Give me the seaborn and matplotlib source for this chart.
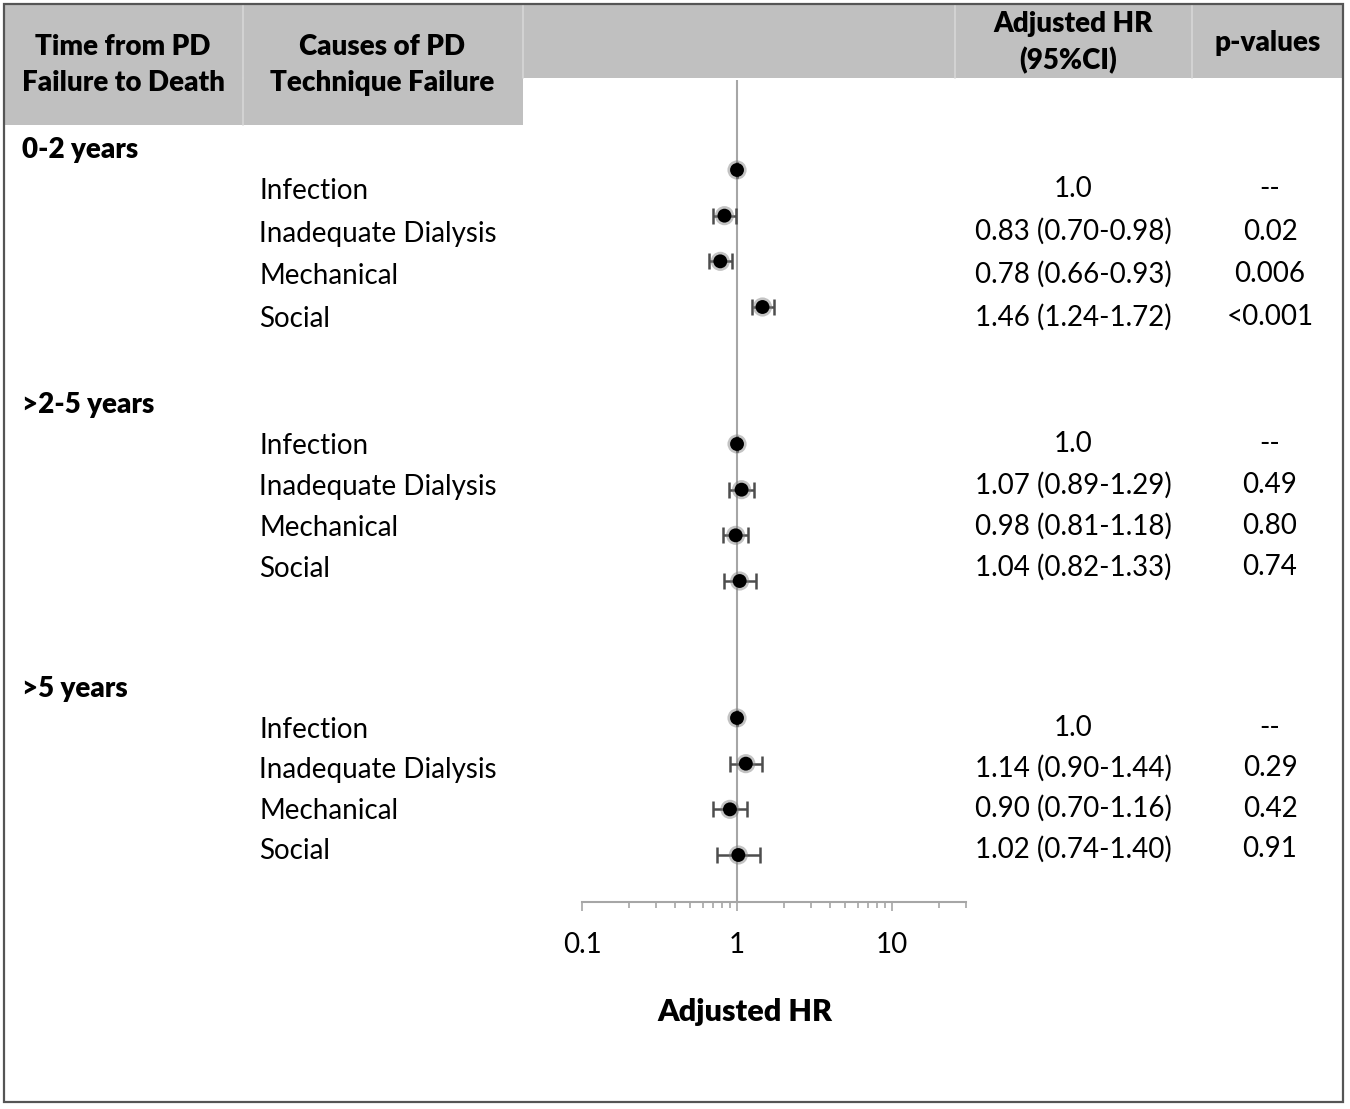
import matplotlib
matplotlib.use("Agg")
import numpy as np
import pandas as pd
import seaborn as sns
import matplotlib.pyplot as plt
from matplotlib.patches import Rectangle

# ---- data ----
groups = ["0-2 years", ">2-5 years", ">5 years"]
causes = ["Infection", "Inadequate Dialysis", "Mechanical", "Social"]

hr_0_2 = [1.0, 0.83, 0.78, 1.46]
lo_0_2 = [1.0, 0.70, 0.66, 1.24]
hi_0_2 = [1.0, 0.98, 0.93, 1.72]
p_0_2 = ["--", "0.02", "0.006", "<0.001"]

hr_2_5 = [1.0, 1.07, 0.98, 1.04]
lo_2_5 = [1.0, 0.89, 0.81, 0.82]
hi_2_5 = [1.0, 1.29, 1.18, 1.33]
p_2_5 = ["--", "0.49", "0.80", "0.74"]

hr_5 = [1.0, 1.14, 0.90, 1.02]
lo_5 = [1.0, 0.90, 0.70, 0.74]
hi_5 = [1.0, 1.44, 1.16, 1.40]
p_5 = ["--", "0.29", "0.42", "0.91"]

tick_values = [0.1, 1, 10]
tick_labels = ["0.1", "1", "10"]

hr_all = [hr_0_2, hr_2_5, hr_5]
lo_all = [lo_0_2, lo_2_5, lo_5]
hi_all = [hi_0_2, hi_2_5, hi_5]
p_all = [p_0_2, p_2_5, p_5]

records = []
for g, grp in enumerate(groups):
    for i, cause in enumerate(causes):
        records.append({
            "group": grp, "cause": cause,
            "hr": hr_all[g][i], "lo": lo_all[g][i], "hi": hi_all[g][i],
            "p": p_all[g][i],
            "row": 6 * g + i,
        })
df = pd.DataFrame(records)

def hr_text(r):
    if r["lo"] == r["hi"]:
        return f"{r['hr']:.1f}"
    return f"{r['hr']:.2f} ({r['lo']:.2f}-{r['hi']:.2f})"

df["hr_label"] = df.apply(hr_text, axis=1)

# ---- layout ----
W, H = 1350, 1109
sns.set_style("white")
plt.rcParams["font.family"] = ["Lato", "DejaVu Sans"]
fs = 20
ink = "#000000"
fig = plt.figure(figsize=(W / 100, H / 100), dpi=100)

bg = fig.add_axes([0, 0, 1, 1])
bg.set_xlim(0, W)
bg.set_ylim(H, 0)
bg.axis("off")

header_grey = "#c0c0c0"
bg.add_patch(Rectangle((5, 5), 1338, 73, color=header_grey, lw=0, zorder=0))
bg.add_patch(Rectangle((5, 78), 518, 47, color=header_grey, lw=0, zorder=0))
for x in [243, 523, 955, 1192]:
    bg.plot([x, x], [5, 78], color="#d6d6d6", lw=1.2, zorder=1)
bg.plot([243, 243], [78, 125], color="#d6d6d6", lw=1.2, zorder=1)
bg.add_patch(Rectangle((4, 4), 1339, 1098, fill=False, ec="#555555", lw=1.6, zorder=2))

hdr = dict(ha="center", va="center", fontsize=fs, fontweight="heavy", color=ink)
bg.text(123, 47, "Time from PD", **hdr)
bg.text(123, 83, "Failure to Death", **hdr)
bg.text(382, 47, "Causes of PD", **hdr)
bg.text(382, 83, "Technique Failure", **hdr)
bg.text(1073, 24, "Adjusted HR", **hdr)
bg.text(1068, 61, "(95%CI)", **hdr)
bg.text(1268, 43, "p-values", **hdr)

group_y = [150, 405, 689]
row_step = [42.7, 41, 40.3]
for g, grp in enumerate(groups):
    bg.text(22, group_y[g], grp, ha="left", va="center", fontsize=fs,
            fontweight="heavy", color=ink)
    sub = df[df["group"] == grp].reset_index(drop=True)
    for i, r in sub.iterrows():
        y = group_y[g] + 41 + row_step[g] * i
        bg.text(259, y, r["cause"], ha="left", va="center", fontsize=fs, color=ink)
        bg.text(1073, y - 2, r["hr_label"], ha="center", va="center", fontsize=fs, color=ink)
        bg.text(1270, y - 2, r["p"], ha="center", va="center", fontsize=fs, color=ink)

# ---- forest plot ----
x0, x1, y_top, y_bot = 582, 966, 80, 902
ax = fig.add_axes([x0 / W, 1 - y_bot / H, (x1 - x0) / W, (y_bot - y_top) / H])
ax.set_facecolor("none")
ax.set_xscale("log")
ax.set_xlim(0.1, 30)
step = 685 / 15
ax.set_ylim(15 + (y_bot - 855) / step, -(170 - y_top) / step)

ax.axvline(1, color="#a6a6a6", lw=1.5, zorder=1)
ax.errorbar(df["hr"], df["row"],
            xerr=[df["hr"] - df["lo"], df["hi"] - df["hr"]],
            fmt="none", ecolor="#4d4d4d", elinewidth=1.8, capsize=6,
            capthick=1.8, zorder=2)
sns.scatterplot(data=df, x="hr", y="row", ax=ax, s=190, color="#7a7a7a",
                alpha=0.45, edgecolor="none", legend=False, zorder=3)
sns.scatterplot(data=df, x="hr", y="row", ax=ax, s=100, color="black",
                edgecolor="none", legend=False, zorder=4)

for side in ["top", "left", "right"]:
    ax.spines[side].set_visible(False)
ax.spines["bottom"].set_color("#a6a6a6")
ax.spines["bottom"].set_linewidth(1.5)
ax.set_yticks([])
ax.set_ylabel("")
ax.set_xticks(tick_values)
ax.set_xticklabels(tick_labels, fontsize=fs, color=ink)
ax.xaxis.set_minor_locator(matplotlib.ticker.LogLocator(base=10, subs=np.arange(2, 10)))
ax.xaxis.set_minor_formatter(matplotlib.ticker.NullFormatter())
ax.tick_params(axis="x", which="major", direction="out", length=6.5, width=1.2,
               color="#a6a6a6", pad=15, bottom=True)
ax.tick_params(axis="x", which="minor", direction="out", length=4.5, width=1.2,
               color="#a6a6a6", bottom=True)
ax.set_xlabel("Adjusted HR", fontsize=22, fontweight="heavy", color=ink)
ax.xaxis.set_label_coords((745 - x0) / (x1 - x0), (y_bot - 998) / (y_bot - y_top))

fig.savefig("out.png", dpi=100)
